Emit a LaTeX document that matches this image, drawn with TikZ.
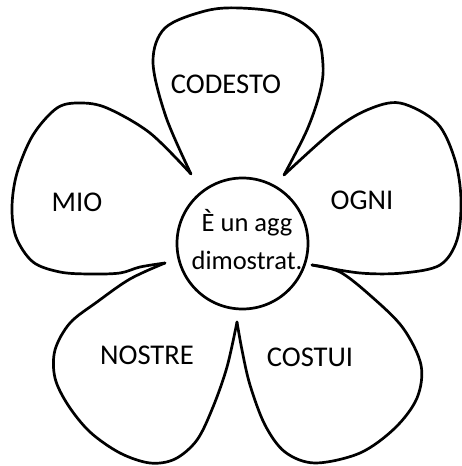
\documentclass[tikz,border=0pt]{standalone}
\usepackage{fontspec}
\setmainfont{Carlito}
\tikzset{
  petalo/.style={line width=2.7pt, line join=round, line cap=round},
  etichetta/.style={font=\fontsize{28.6}{34}\selectfont, anchor=base, inner sep=0pt},
}
\begin{document}
\begin{tikzpicture}[x=1pt, y=-1pt]
    \useasboundingbox (0,0) rectangle (462,466);

    % Punte tra i petali
    \coordinate (pNO) at (191,174);
    \coordinate (pNE) at (284,175);
    \coordinate (pE) at (312,265);
    \coordinate (pS) at (237,322);
    \coordinate (pO) at (165,263);

    % Petali
    \draw[petalo] plot[smooth, tension=0.55] coordinates {(pNO) (166,117) (153,62) (165,28) (205,11) (240,8) (285,14) (316,35) (323,65) (320,92) (307,130) (pNE)};
    \draw[petalo] plot[smooth, tension=0.55] coordinates {(pNE) (333,131) (367,110) (400,103) (437,123) (455,160) (461,200) (457,240) (440,265) (403,273) (360,273) (pE)};
    \draw[petalo] plot[smooth, tension=0.55] coordinates {(pE) (340,272) (372,297) (403,328) (421,365) (417,398) (395,428) (360,453) (315,463) (285,452) (265,425) (250,385) (242,350) (pS)};
    \draw[petalo] plot[smooth, tension=0.55] coordinates {(pS) (227,367) (213,407) (197,440) (175,459) (150,463) (120,453) (90,432) (68,405) (55,378) (55,350) (70,323) (97,302) (130,279) (pO)};
    \draw[petalo] plot[smooth, tension=0.55] coordinates {(pO) (140,267) (120,273) (90,274) (60,272) (33,262) (16,237) (12,207) (17,173) (33,135) (57,108) (80,103) (107,108) (150,133) (pNO)};

    % Cerchio centrale
    \draw[petalo] (242.5,243.5) circle (65.5);
    \node[font=\fontsize{26.5}{38}\selectfont, align=center, inner sep=0pt] (centro) at (247,240) {È un agg\\dimostrat.};

    % Parole
    \node[etichetta] (codesto) at (226,93) {CODESTO};
    \node[etichetta] (ogni) at (362,209) {OGNI};
    \node[etichetta] (costui) at (310,366) {COSTUI};
    \node[etichetta] (nostre) at (147,364) {NOSTRE};
    \node[etichetta] (mio) at (77,211) {MIO};
\end{tikzpicture}
\end{document}
